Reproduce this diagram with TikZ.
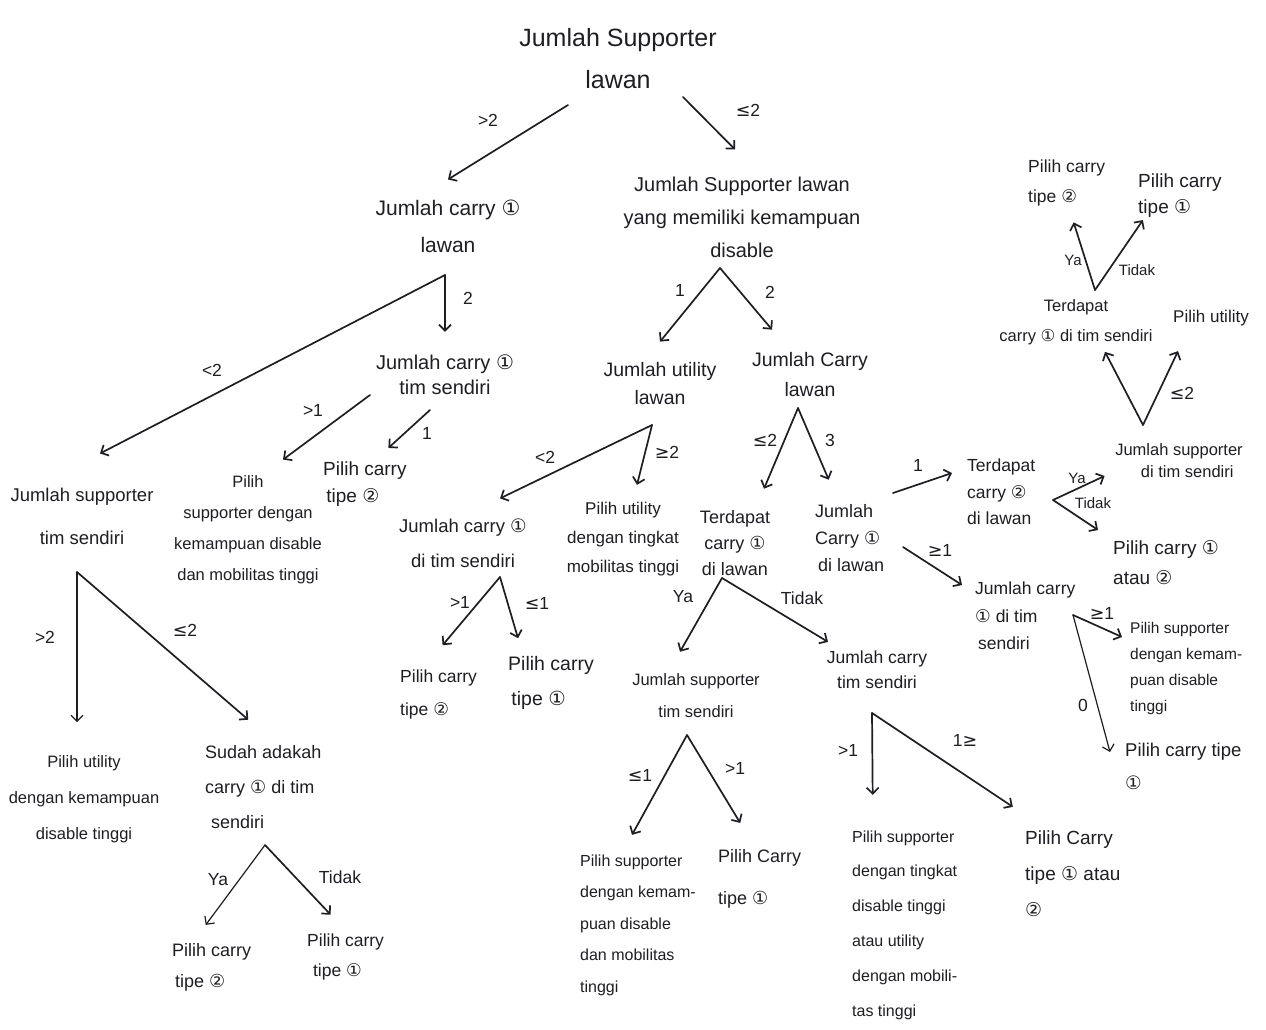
\documentclass[tikz,border=0pt]{standalone}
\usepackage{fontspec}
\setmainfont{Liberation Sans}
\newfontfamily\symf{DejaVu Sans}
\usetikzlibrary{arrows.meta,calc}
\newcommand\cone{{\symf ①}}
\newcommand\ctwo{{\symf ②}}
\newcommand\leqs{{\symf ≤}}
\newcommand\geqs{{\symf ≥}}
\definecolor{ink}{RGB}{30,30,36}
\begin{document}
\begin{tikzpicture}[x=1pt,y=-1pt,
  txt/.style={align=center,inner sep=0pt,text=ink},
  ltxt/.style={align=left,anchor=west,inner sep=0pt,text=ink},
  fs/.style 2 args={font=\fontsize{#1}{#2}\selectfont},
  lab/.style={font=\fontsize{17.5}{19}\selectfont,inner sep=0pt,text=ink},
  slab/.style={font=\fontsize{15}{17}\selectfont,inner sep=0pt,text=ink},
  edge/.style={draw=ink,line width=1.7pt,line cap=round,line join=round,-{Straight Barb[length=6pt,width=12pt]}}]
\fill[white] (0,0) rectangle (1266,1029);
\useasboundingbox (0,0) rectangle (1266,1029);

% ---------- nodes ----------
\node[txt,fs={25}{42}] (R0) at (618,59) {Jumlah Supporter\\lawan};
\node[txt,fs={21}{37}] (A) at (448,226) {Jumlah carry \cone\\lawan};
\node[txt,fs={20}{33}] (B) at (742,217) {Jumlah Supporter lawan\\yang memiliki kemampuan\\disable};
\node[txt,fs={20}{25}] (C) at (445,375) {Jumlah carry \cone\\tim sendiri};
\node[txt,fs={18.5}{43}] (D) at (82,516) {Jumlah supporter\\tim sendiri};
\node[txt,fs={16.5}{31}] (E) at (248,530) {Pilih\\supporter dengan\\kemampuan disable\\dan mobilitas tinggi};
\node[ltxt,fs={19}{27}] (F) at (323,484) {Pilih carry\\\,tipe \ctwo};
\node[txt,fs={16.5}{36}] (G) at (84,799) {Pilih utility\\dengan kemampuan\\disable tinggi};
\node[ltxt,fs={18}{35}] (H) at (205,787) {Sudah adakah\\carry \cone{} di tim\\\,\,sendiri};
\node[ltxt,fs={18}{31}] (I) at (172,967) {Pilih carry\\\,tipe \ctwo};
\node[ltxt,fs={17.5}{30}] (J) at (307,957) {Pilih carry\\\,\,tipe \cone};
\node[txt,fs={19.5}{28}] (K) at (660,384) {Jumlah utility\\lawan};
\node[txt,fs={19.5}{30}] (L) at (810,375) {Jumlah Carry\\lawan};
\node[txt,fs={18.5}{35}] (M) at (463,543) {Jumlah carry \cone\\di tim sendiri};
\node[txt,fs={17}{29}] (N) at (623,539) {Pilih utility\\dengan tingkat\\mobilitas tinggi};
\node[ltxt,fs={17.5}{33}] (O) at (400,694) {Pilih carry\\tipe \ctwo};
\node[ltxt,fs={19.5}{35}] (P) at (508,683) {Pilih carry\\\,tipe \cone};
\node[txt,fs={18}{26}] (Q) at (735,543) {Terdapat\\carry \cone\\di lawan};
\node[ltxt,fs={18}{27}] (R) at (815,538) {Jumlah\\Carry \cone\\\,di lawan};
\node[txt,fs={16.5}{32}] (S) at (696,696) {Jumlah supporter\\tim sendiri};
\node[txt,fs={17.5}{25}] (T) at (877,670) {Jumlah carry\\tim sendiri};
\node[ltxt,fs={16}{31.5}] (U) at (580,925) {Pilih supporter\\dengan kemam-\\puan disable\\dan mobilitas\\tinggi};
\node[ltxt,fs={18}{42}] (V) at (718,879) {Pilih Carry\\tipe \cone};
\node[ltxt,fs={16}{34.8}] (W) at (852,925) {Pilih supporter\\dengan tingkat\\disable tinggi\\atau utility\\dengan mobili-\\tas tinggi};
\node[ltxt,fs={19}{36}] (X) at (1025,874) {Pilih Carry\\tipe \cone{} atau\\\ctwo};
\node[ltxt,fs={17.5}{26.5}] (Y) at (967,492) {Terdapat\\carry \ctwo\\di lawan};
\node[ltxt,fs={17.5}{27.5}] (Z) at (975,616) {Jumlah carry\\\cone{} di tim\\\,sendiri};
\node[txt,fs={16.5}{22}] (AA) at (1179,461) {Jumlah supporter\\\quad di tim sendiri};
\node[ltxt,fs={19}{30}] (AB) at (1113,563) {Pilih carry \cone\\atau \ctwo};
\node[ltxt,fs={15.5}{26}] (AC) at (1130,668) {Pilih supporter\\dengan kemam-\\puan disable\\tinggi};
\node[ltxt,fs={18.5}{33}] (AD) at (1125,766) {Pilih carry tipe\\\cone};
\node[txt,fs={16.5}{30}] (AE) at (1076,322) {Terdapat\\carry \cone{} di tim sendiri};
\node[txt,fs={17}{20}] (AF) at (1211,318) {Pilih utility};
\node[ltxt,fs={17.5}{30}] (AG) at (1028,183) {Pilih carry\\tipe \ctwo};
\node[ltxt,fs={19}{26}] (AH) at (1138,196) {Pilih carry\\tipe \cone};

% ---------- branch points ----------
\coordinate (sR0l) at (568,105);
\coordinate (sR0r) at (683,97);
\coordinate (aA) at (445,275);
\coordinate (sC1) at (370,395);
\coordinate (sC2) at (430,410);
\coordinate (aD) at (77,572);
\coordinate (aH) at (265,845);
\coordinate (aB) at (720,268);
\coordinate (aK) at (652,425);
\coordinate (aM) at (500,577);
\coordinate (aL) at (798,408);
\coordinate (aQ) at (722,578);
\coordinate (aS) at (687,735);
\coordinate (aT) at (872,713);
\coordinate (sR1) at (893,493);
\coordinate (sR2) at (903,547);
\coordinate (aY) at (1053,500);
\coordinate (aZ) at (1073,615);
\coordinate (aAA) at (1143,425);
\coordinate (aAE) at (1095,290);

% ---------- connectors ----------
\draw[edge] (sR0l) -- ($(A.north)+(0,-20)$);
\draw[edge] (sR0r) -- ($(B.north)+(-7,-27)$);
\draw[edge] (aA) -- ($(C.north)+(0,-23)$);
\draw[edge] (aA) -- ($(D.north)+(18,-34)$);
\draw[edge] (sC1) -- ($(E.north)+(35,-16)$);
\draw[edge] (sC2) -- ($(F.north)+(23.5,-13.5)$);
\draw[edge,line width=1.2pt] (aD) -- ($(G.north)+(-7,-33)$);
\draw[edge] (aD) -- ($(H.north)+(-15,-25.5)$);
\draw[edge,line width=1.2pt] (aH) -- ($(I.north)+(-6,-18)$);
\draw[edge] (aH) -- ($(J.north)+(-15,-19)$);
\draw[edge] (aB) -- ($(K.north)+(0,-21)$);
\draw[edge] (aB) -- ($(L.north)+(-38,-23)$);
\draw[edge] (aK) -- ($(M.north)+(37,-20)$);
\draw[edge] (aK) -- ($(N.north)+(14,-17)$);
\draw[edge] (aM) -- ($(O.north)+(4,-24)$);
\draw[edge] (aM) -- ($(P.north)+(-33,-18)$);
\draw[edge] (aL) -- ($(Q.north)+(29,-21.5)$);
\draw[edge] (aL) -- ($(R.north)+(-21,-24.5)$);
\draw[edge] (aQ) -- ($(S.north)+(-16,-22)$);
\draw[edge] (aQ) -- ($(T.north)+(-49,-9)$);
\draw[edge] (aS) -- ($(U.north)+(-6,-19.5)$);
\draw[edge] (aS) -- ($(V.north)+(-19.5,-26.5)$);
\draw[edge] (aT) -- ($(W.north)+(-32,-35.5)$);
\draw[edge] (aT) -- ($(X.north)+(-60,-24)$);
\draw[edge] (sR1) -- ($(Y.west)+(-15,-19)$);
\draw[edge] (sR2) -- ($(Z.west)+(-13,-31)$);
\draw[edge] (aY) -- ($(AA.west)+(-10.5,15)$);
\draw[edge] (aY) -- ($(AB.west)+(-15,-33)$);
\draw[edge] (aZ) -- ($(AC.west)+(-8,-31)$);
\draw[edge,line width=1.2pt] (aZ) -- ($(AD.west)+(-15,-14)$);
\draw[edge] (aAA) -- ($(AE.south)+(29,7)$);
\draw[edge] (aAA) -- ($(AF.south)+(-33,25)$);
\draw[edge] (aAE) -- ($(AG.south)+(7,16)$);
\draw[edge] (aAE) -- ($(AH.south)+(-37,2)$);

% ---------- connector labels ----------
\node[lab] (l1) at (488,120) {>2};
\node[lab] (l2) at (748,110) {\leqs 2};
\node[lab] (l3) at (468,298) {2};
\node[lab] (l4) at (212,370) {<2};
\node[lab] (l5) at (313,410) {>1};
\node[lab] (l6) at (427,433) {1};
\node[lab] (l7) at (45,637) {>2};
\node[lab] (l8) at (185,630) {\leqs 2};
\node[lab] (l9) at (218,880) {Ya};
\node[lab] (l10) at (340,877) {Tidak};
\node[lab] (l11) at (680,290) {1};
\node[lab] (l12) at (770,292) {2};
\node[lab] (l13) at (545,457) {<2};
\node[lab] (l14) at (667,452) {\geqs 2};
\node[lab] (l15) at (460,602) {>1};
\node[lab] (l16) at (537,603) {\leqs 1};
\node[lab] (l17) at (765,440) {\leqs 2};
\node[lab] (l18) at (830,440) {3};
\node[lab] (l19) at (683,597) {Ya};
\node[lab] (l20) at (802,598) {Tidak};
\node[lab] (l21) at (640,775) {\leqs 1};
\node[lab] (l22) at (735,768) {>1};
\node[lab] (l23) at (848,750) {>1};
\node[lab] (l24) at (965,740) {1\geqs};
\node[lab] (l25) at (918,465) {1};
\node[lab] (l26) at (940,550) {\geqs 1};
\node[slab] (l27) at (1077,478) {Ya};
\node[slab] (l28) at (1093,503) {Tidak};
\node[lab] (l29) at (1102,613) {\geqs 1};
\node[lab] (l30) at (1083,705) {0};
\node[lab] (l31) at (1182,393) {\leqs 2};
\node[slab] (l32) at (1073,260) {Ya};
\node[slab] (l33) at (1137,270) {Tidak};
\end{tikzpicture}
\end{document}
